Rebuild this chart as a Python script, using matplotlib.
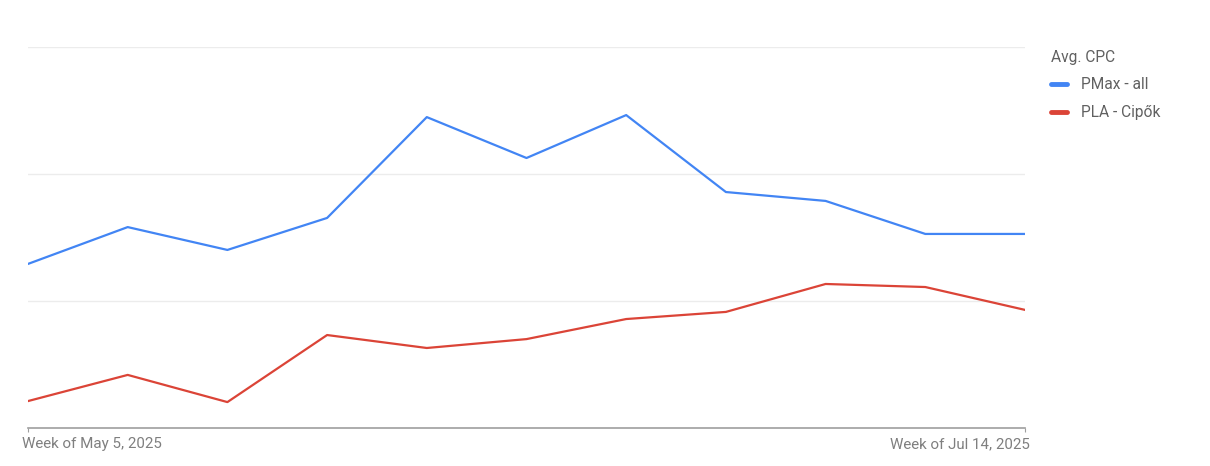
import matplotlib.pyplot as plt
from matplotlib.transforms import ScaledTranslation

plt.rcParams['font.family'] = ['Roboto', 'DejaVu Sans']

weeks = list(range(11))
tick_labels = ["Week of May 5, 2025", "Week of Jul 14, 2025"]
pmax_all = [0.646, 0.791, 0.701, 0.827, 1.224, 1.063, 1.232, 0.929, 0.894, 0.764, 0.764]
pla_cipok = [0.106, 0.209, 0.102, 0.366, 0.315, 0.350, 0.429, 0.457, 0.567, 0.555, 0.465]

fig = plt.figure(figsize=(12.1, 4.66), dpi=100)
ax = fig.add_axes([28 / 1210, 38 / 466, (1025 - 28) / 1210, (428 - 47) / 466])

ax.plot(weeks, pmax_all, color="#4285F4", lw=1.6, label="PMax - all")
ax.plot(weeks, pla_cipok, color="#DB4437", lw=1.6, label="PLA - Cipők")

ax.set_xlim(0, 10)
ax.set_ylim(0, 1.5)
ax.set_yticks([0.5, 1.0, 1.5])
ax.yaxis.grid(True, color="#ececec", lw=1)
ax.tick_params(axis="y", length=0, labelleft=False)
ax.set_xticks([0, 10])
ax.tick_params(axis="x", length=3, color="#9e9e9e", labelbottom=False)
for s in ["top", "right", "left"]:
    ax.spines[s].set_visible(False)
ax.spines["bottom"].set_color("#9e9e9e")
ax.spines["bottom"].set_linewidth(1.2)

# first/last tick labels, nudged outward like the original
base = ax.get_xaxis_transform()
ax.text(weeks[0], 0, tick_labels[0], ha="left", va="top", fontsize=10.9, color="#7f7f7f",
        transform=base + ScaledTranslation(-6 / 100, -9 / 100, fig.dpi_scale_trans))
ax.text(weeks[-1], 0, tick_labels[1], ha="right", va="top", fontsize=10.9, color="#7f7f7f",
        transform=base + ScaledTranslation(5 / 100, -9 / 100, fig.dpi_scale_trans))

leg = ax.legend(loc="upper left", bbox_to_anchor=(1.012, 1.03), frameon=False,
                title="Avg. CPC", fontsize=11.2, title_fontsize=11.2,
                handlelength=1.0, handletextpad=0.9, labelspacing=0.85,
                alignment="left")
leg.get_title().set_color("#616161")
leg._legend_box.sep = 9
for t in leg.get_texts():
    t.set_color("#616161")
for h in leg.legend_handles:
    h.set_linewidth(3.5)
    h.set_solid_capstyle("round")

fig.savefig("out.png", dpi=100)
